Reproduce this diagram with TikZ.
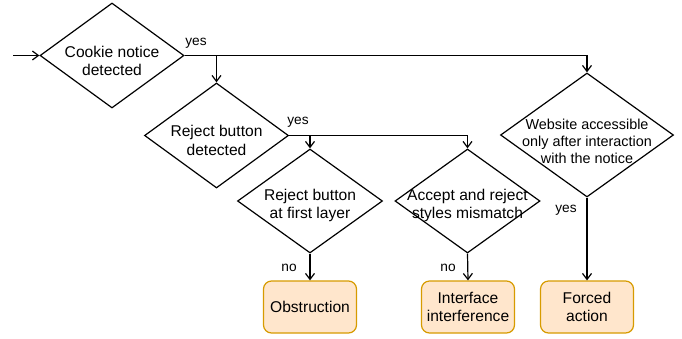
\documentclass[tikz,border=0pt]{standalone}
\usepackage{fontspec}
\setmainfont{Liberation Sans}
\usetikzlibrary{shapes.geometric,arrows.meta}
\newcommand{\dtext}[2]{\makebox[0pt][c]{\raisebox{#1}[0pt][0pt]{\begin{tabular}{@{}c@{}}#2\end{tabular}}}}
\definecolor{resfill}{HTML}{FFE6CC}
\definecolor{resdraw}{HTML}{D79B00}
\begin{document}
\begin{tikzpicture}[x=1pt,y=-1pt,
  dec/.style={diamond, draw, line width=1.2pt, inner sep=0pt, font=\fontsize{15.6}{18.8}\selectfont},
  res/.style={draw=resdraw, fill=resfill, line width=1.2pt, rounded corners=8pt, minimum width=93pt, minimum height=52pt, align=center, inner sep=0pt, font=\fontsize{15.6}{18.8}\selectfont},
  arr/.style={line width=1.2pt, -{Straight Barb[length=6pt,width=9pt]}},
  lbl/.style={font=\fontsize{13.7}{16}\selectfont, inner sep=0pt}]
\useasboundingbox (0,0) rectangle (682,338);
\node[dec, minimum width=144pt, minimum height=105pt] (d1) at (112,55.5) {\dtext{-10.8pt}{Cookie notice\\detected}};
\node[dec, minimum width=144pt, minimum height=105pt] (d2) at (216.5,135.5) {\dtext{-10.3pt}{Reject button\\detected}};
\node[dec, minimum width=145pt, minimum height=104pt] (d3) at (310,201) {\dtext{-8.3pt}{Reject button\\at first layer}};
\node[dec, minimum width=145pt, minimum height=104pt] (d4) at (467.5,201) {\dtext{-8.3pt}{Accept and reject\\styles mismatch}};
\node[dec, minimum width=173pt, minimum height=124pt, font=\fontsize{14.4}{17}\selectfont] (d5) at (587,135) {\dtext{-12.1pt}{Website accessible\\only after interaction\\with the notice}};
\node[res] (r1) at (310,307) {Obstruction};
\node[res] (r2) at (468,307) {Interface\\interference};
\node[res] (r3) at (587,307) {Forced\\action};
\coordinate (in) at (13,55.5);
\draw[arr] (in) -- (d1.west);
\draw[arr] (d1.east) -| (d5.north);
\draw[arr] (d1.east -| d2.north) -- (d2.north);
\draw[arr] (d2.east) -| (d4.north);
\draw[arr] (d2.east -| d3.north) -- (d3.north);
\draw[arr] (d3.south) -- (r1.north);
\draw[arr] (d4.south) -- (r2.north);
\draw[arr] (d5.south) -- (r3.north);
\node[lbl] (y1) at (196,43) {yes};
\node[lbl] (y2) at (298,122) {yes};
\node[lbl] (n1) at (289,268) {no};
\node[lbl] (n2) at (448,268) {no};
\node[lbl] (y3) at (566,210) {yes};
\end{tikzpicture}
\end{document}
